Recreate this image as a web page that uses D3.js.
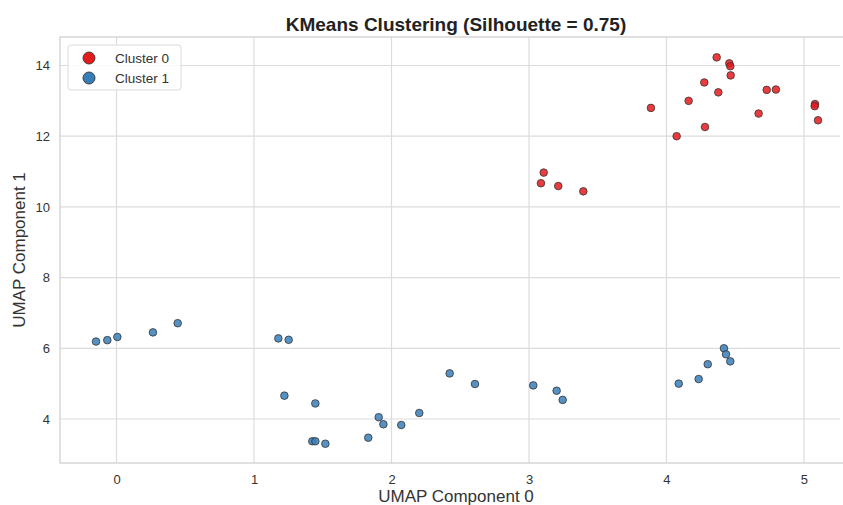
<!DOCTYPE html>
<html>
<head>
<meta charset="utf-8">
<script src="https://cdn.jsdelivr.net/npm/d3@7"></script>
<style>
  body { margin: 0; background: #fff; }
  text { font-family: "Liberation Sans", Arial, sans-serif; }
</style>
</head>
<body>
<div id="chart"></div>
<script>
// cluster 0 (red) points: [umap0, umap1]
var cluster0 = [
  [3.107, 10.97], [3.087, 10.67], [3.213, 10.59], [3.395, 10.44],
  [3.887, 12.80], [4.074, 12.00], [4.161, 13.00], [4.280, 12.26],
  [4.275, 13.52], [4.365, 14.23], [4.377, 13.24], [4.457, 14.06],
  [4.464, 13.98], [4.467, 13.72], [4.670, 12.64], [4.729, 13.31],
  [4.796, 13.32], [5.080, 12.91], [5.078, 12.85], [5.102, 12.45]
];
// cluster 1 (blue) points
var cluster1 = [
  [-0.149, 6.19], [-0.067, 6.23], [0.006, 6.32], [0.265, 6.45], [0.445, 6.71],
  [1.177, 6.28], [1.252, 6.24], [1.221, 4.66], [1.446, 4.44],
  [1.424, 3.37], [1.446, 3.37], [1.519, 3.30],
  [1.831, 3.47], [1.907, 4.05], [1.941, 3.85], [2.071, 3.83], [2.202, 4.17],
  [2.423, 5.29], [2.607, 4.99], [3.031, 4.95], [3.201, 4.80], [3.245, 4.54],
  [4.089, 5.00], [4.234, 5.13], [4.300, 5.55], [4.418, 6.00], [4.433, 5.83], [4.464, 5.63]
];
var xTicks = [0, 1, 2, 3, 4, 5];
var yTicks = [4, 6, 8, 10, 12, 14];
var clusterNames = ["Cluster 0", "Cluster 1"];
var clusterColors = ["#e41a1c", "#377eb8"];

var W = 843, H = 505;
var margin = { top: 37, left: 60, right: 3, bottom: 42 },
  width = W - margin.left - margin.right,
  height = H - margin.top - margin.bottom;
// the figure is cropped on the right, so the axes' centre sits a bit past the middle
var centreX = 456;

var svg = d3.select("#chart").append("svg")
  .attr("width", W).attr("height", H);

var g = svg.append("g")
  .attr("transform", "translate(" + margin.left + "," + margin.top + ")");

var x = d3.scaleLinear().domain([-0.411, 5.262]).range([0, width]);
var y = d3.scaleLinear().domain([2.755, 14.806]).range([height, 0]);

// grid
g.selectAll(".gx").data(xTicks).enter().append("line")
  .attr("x1", d => x(d)).attr("x2", d => x(d))
  .attr("y1", 0).attr("y2", height)
  .attr("stroke", "#dcdcdc").attr("stroke-width", 1.2);
g.selectAll(".gy").data(yTicks).enter().append("line")
  .attr("x1", 0).attr("x2", width)
  .attr("y1", d => y(d)).attr("y2", d => y(d))
  .attr("stroke", "#dcdcdc").attr("stroke-width", 1.2);

// frame
g.append("rect")
  .attr("width", width + 10).attr("height", height)
  .attr("fill", "none").attr("stroke", "#d0d0d0").attr("stroke-width", 1.3);

// axes
var xAxis = d3.axisBottom(x).tickValues(xTicks).tickSize(0).tickPadding(12).tickFormat(d3.format("d"));
g.append("g")
  .attr("transform", "translate(0," + height + ")")
  .call(xAxis)
  .call(a => a.select(".domain").remove())
  .selectAll("text").attr("font-size", "13px").attr("fill", "#333");

var yAxis = d3.axisLeft(y).tickValues(yTicks).tickSize(0).tickPadding(10);
g.append("g")
  .call(yAxis)
  .call(a => a.select(".domain").remove())
  .selectAll("text").attr("font-size", "13px").attr("fill", "#333");

// points
var all = cluster0.map(d => ({ p: d, c: 0 })).concat(cluster1.map(d => ({ p: d, c: 1 })));
g.selectAll("circle.pt").data(all).enter().append("circle")
  .attr("class", "pt")
  .attr("cx", d => x(d.p[0]))
  .attr("cy", d => y(d.p[1]))
  .attr("r", 3.8)
  .attr("fill", d => clusterColors[d.c])
  .attr("fill-opacity", 0.85)
  .attr("stroke", "#333")
  .attr("stroke-width", 0.8);

// title
svg.append("text")
  .attr("x", centreX).attr("y", 31)
  .attr("text-anchor", "middle")
  .attr("font-size", "19px").attr("font-weight", "bold").attr("fill", "#222")
  .text("KMeans Clustering (Silhouette = 0.75)");

// axis labels
svg.append("text")
  .attr("x", centreX).attr("y", 502)
  .attr("text-anchor", "middle")
  .attr("font-size", "17px").attr("fill", "#333")
  .text("UMAP Component 0");

svg.append("text")
  .attr("transform", "translate(25," + (margin.top + height / 2) + ") rotate(-90)")
  .attr("text-anchor", "middle")
  .attr("font-size", "17px").attr("fill", "#333")
  .text("UMAP Component 1");

// legend
var lg = g.append("g").attr("transform", "translate(8,8)");
lg.append("rect")
  .attr("width", 113).attr("height", 45).attr("rx", 3)
  .attr("fill", "#fff").attr("fill-opacity", 0.85)
  .attr("stroke", "#dadada");
clusterNames.forEach(function(name, i) {
  lg.append("circle")
    .attr("cx", 21).attr("cy", 13 + i * 20).attr("r", 6)
    .attr("fill", clusterColors[i]).attr("stroke", "#333").attr("stroke-width", 0.9);
  lg.append("text")
    .attr("x", 47).attr("y", 13 + i * 20).attr("dy", "0.35em")
    .attr("font-size", "13.5px").attr("fill", "#333")
    .text(name);
});
</script>
</body>
</html>
